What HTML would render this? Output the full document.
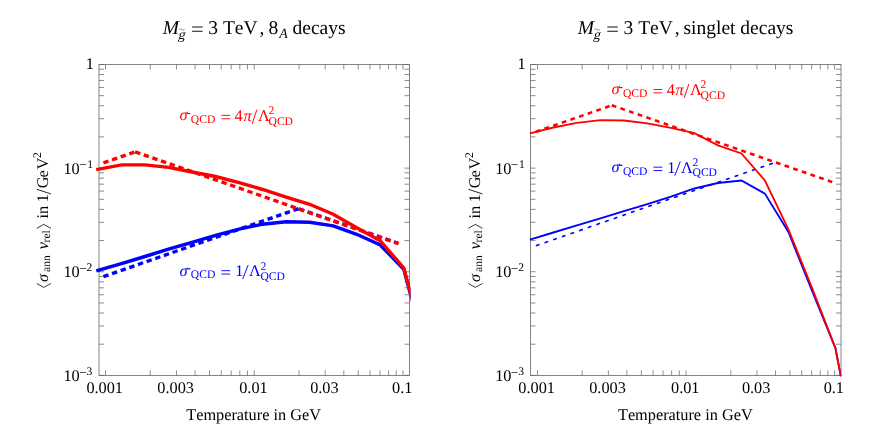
<!DOCTYPE html>
<html><head><meta charset="utf-8"><title>plot</title>
<style>html,body{margin:0;padding:0;background:#fff}svg{display:block;will-change:transform}text{font-family:"Liberation Serif",serif;text-rendering:geometricPrecision;font-kerning:none}</style></head>
<body>
<svg width="880" height="444" viewBox="0 0 880 444" font-family='"Liberation Serif", serif' font-size="16.3" fill="#000">
<rect width="880" height="444" fill="#fff"/>
<defs><clipPath id="c1"><rect x="94" y="60" width="316.5" height="315.9"/></clipPath><clipPath id="c2"><rect x="525" y="60" width="316.6" height="316.2"/></clipPath></defs>
<path d="M105.5 375.4v-5.0M105.5 64.5v5.0M150.28 375.4v-5.0M150.28 64.5v5.0M176.47 375.4v-5.0M176.47 64.5v5.0M195.06 375.4v-5.0M195.06 64.5v5.0M209.47 375.4v-5.0M209.47 64.5v5.0M221.25 375.4v-5.0M221.25 64.5v5.0M231.21 375.4v-5.0M231.21 64.5v5.0M239.83 375.4v-5.0M239.83 64.5v5.0M247.44 375.4v-5.0M247.44 64.5v5.0M254.25 375.4v-5.0M254.25 64.5v5.0M299.03 375.4v-5.0M299.03 64.5v5.0M325.22 375.4v-5.0M325.22 64.5v5.0M343.81 375.4v-5.0M343.81 64.5v5.0M358.22 375.4v-5.0M358.22 64.5v5.0M370 375.4v-5.0M370 64.5v5.0M379.96 375.4v-5.0M379.96 64.5v5.0M388.58 375.4v-5.0M388.58 64.5v5.0M396.19 375.4v-5.0M396.19 64.5v5.0M403 375.4v-5.0M403 64.5v5.0M99 375.39h5.0M409.5 375.39h-5.0M99 344.19h5.0M409.5 344.19h-5.0M99 325.95h5.0M409.5 325.95h-5.0M99 313h5.0M409.5 313h-5.0M99 302.96h5.0M409.5 302.96h-5.0M99 294.75h5.0M409.5 294.75h-5.0M99 287.81h5.0M409.5 287.81h-5.0M99 281.8h5.0M409.5 281.8h-5.0M99 276.5h5.0M409.5 276.5h-5.0M99 271.76h5.0M409.5 271.76h-5.0M99 240.56h5.0M409.5 240.56h-5.0M99 222.32h5.0M409.5 222.32h-5.0M99 209.37h5.0M409.5 209.37h-5.0M99 199.33h5.0M409.5 199.33h-5.0M99 191.12h5.0M409.5 191.12h-5.0M99 184.18h5.0M409.5 184.18h-5.0M99 178.17h5.0M409.5 178.17h-5.0M99 172.87h5.0M409.5 172.87h-5.0M99 168.13h5.0M409.5 168.13h-5.0M99 136.93h5.0M409.5 136.93h-5.0M99 118.69h5.0M409.5 118.69h-5.0M99 105.74h5.0M409.5 105.74h-5.0M99 95.7h5.0M409.5 95.7h-5.0M99 87.49h5.0M409.5 87.49h-5.0M99 80.55h5.0M409.5 80.55h-5.0M99 74.54h5.0M409.5 74.54h-5.0M99 69.24h5.0M409.5 69.24h-5.0M99 64.5h5.0M409.5 64.5h-5.0" stroke="#666" stroke-width="0.75" fill="none"/>
<rect x="99" y="64.5" width="310.5" height="310.9" stroke="#666" stroke-width="0.8" fill="none"/>
<path d="M537.45 375.4v-5.0M537.45 64.5v5.0M582.18 375.4v-5.0M582.18 64.5v5.0M608.35 375.4v-5.0M608.35 64.5v5.0M626.92 375.4v-5.0M626.92 64.5v5.0M641.32 375.4v-5.0M641.32 64.5v5.0M653.08 375.4v-5.0M653.08 64.5v5.0M663.03 375.4v-5.0M663.03 64.5v5.0M671.65 375.4v-5.0M671.65 64.5v5.0M679.25 375.4v-5.0M679.25 64.5v5.0M686.05 375.4v-5.0M686.05 64.5v5.0M730.78 375.4v-5.0M730.78 64.5v5.0M756.95 375.4v-5.0M756.95 64.5v5.0M775.52 375.4v-5.0M775.52 64.5v5.0M789.92 375.4v-5.0M789.92 64.5v5.0M801.68 375.4v-5.0M801.68 64.5v5.0M811.63 375.4v-5.0M811.63 64.5v5.0M820.25 375.4v-5.0M820.25 64.5v5.0M827.85 375.4v-5.0M827.85 64.5v5.0M834.65 375.4v-5.0M834.65 64.5v5.0M530.5 375.39h5.0M841 375.39h-5.0M530.5 344.19h5.0M841 344.19h-5.0M530.5 325.95h5.0M841 325.95h-5.0M530.5 313h5.0M841 313h-5.0M530.5 302.96h5.0M841 302.96h-5.0M530.5 294.75h5.0M841 294.75h-5.0M530.5 287.81h5.0M841 287.81h-5.0M530.5 281.8h5.0M841 281.8h-5.0M530.5 276.5h5.0M841 276.5h-5.0M530.5 271.76h5.0M841 271.76h-5.0M530.5 240.56h5.0M841 240.56h-5.0M530.5 222.32h5.0M841 222.32h-5.0M530.5 209.37h5.0M841 209.37h-5.0M530.5 199.33h5.0M841 199.33h-5.0M530.5 191.12h5.0M841 191.12h-5.0M530.5 184.18h5.0M841 184.18h-5.0M530.5 178.17h5.0M841 178.17h-5.0M530.5 172.87h5.0M841 172.87h-5.0M530.5 168.13h5.0M841 168.13h-5.0M530.5 136.93h5.0M841 136.93h-5.0M530.5 118.69h5.0M841 118.69h-5.0M530.5 105.74h5.0M841 105.74h-5.0M530.5 95.7h5.0M841 95.7h-5.0M530.5 87.49h5.0M841 87.49h-5.0M530.5 80.55h5.0M841 80.55h-5.0M530.5 74.54h5.0M841 74.54h-5.0M530.5 69.24h5.0M841 69.24h-5.0M530.5 64.5h5.0M841 64.5h-5.0" stroke="#666" stroke-width="0.75" fill="none"/>
<rect x="530.5" y="64.5" width="310.5" height="310.9" stroke="#666" stroke-width="0.8" fill="none"/>
<g clip-path="url(#c1)">
<path d="M97.9 270.5L121.43 263.6L144.96 256.5L168.49 249.2L192.02 242.3L215.55 235.4L239.08 229.2L262.61 224.2L286.14 221.8L309.67 222.2L333.2 225.9L356.73 234.3L380.26 245L403.79 269.2L427.32 357" stroke="#0000ff" stroke-width="3.4" fill="none" stroke-linejoin="miter" stroke-linecap="square"/>
<path d="M103.4 276.57L299.3 208.4" stroke="#0000ff" stroke-width="3.4" fill="none" stroke-linejoin="miter" stroke-dasharray="5.4 3.7479999999999993"/><path d="M298.9 208.85L398.2 243.41" stroke="#0000ff" stroke-width="3.4" fill="none" stroke-linejoin="miter" stroke-dasharray="5.4 3.7479999999999993"/>
<path d="M97.9 169.3L121.43 164.9L144.96 164.9L168.49 167.4L192.02 172L215.55 176.5L239.08 182.7L262.61 189.5L286.14 197.1L309.67 204.3L333.2 214.2L356.73 227.7L380.26 240.8L403.79 268L427.32 355" stroke="#ff0000" stroke-width="3.4" fill="none" stroke-linejoin="miter" stroke-linecap="square"/>
<path d="M103.4 162.93L135.1 151.9" stroke="#ff0000" stroke-width="3.4" fill="none" stroke-linejoin="miter" stroke-dasharray="5.4 3.7479999999999993"/><path d="M135.1 151.9L398.6 243.6" stroke="#ff0000" stroke-width="3.4" fill="none" stroke-linejoin="miter" stroke-dasharray="5.4 3.7479999999999993"/>
</g>
<g clip-path="url(#c2)">
<path d="M529.9 239.6L553.4 232.5L576.9 225.4L600.4 218.3L623.9 211.2L647.4 204.1L670.9 196.6L694.4 188.5L717.9 183L741.4 180.5L764.9 193.6L788.4 232L811.9 290.4L835.4 348.1L858.9 470" stroke="#0000ff" stroke-width="1.85" fill="none" stroke-linejoin="miter"/>
<path d="M535.9 245.69L776.4 162" stroke="#0000ff" stroke-width="1.6" fill="none" stroke-linejoin="miter" stroke-dasharray="3.9 5.247999999999999"/>
<path d="M529.9 133.3L553.4 127.5L576.9 122.9L600.4 120.1L623.9 120.5L647.4 123.3L670.9 127.9L694.4 133.1L717.9 145.4L741.4 153.5L764.9 180.5L788.4 229.3L811.9 287.7L835.4 348.1L858.9 470" stroke="#ff0000" stroke-width="1.85" fill="none" stroke-linejoin="miter"/>
<path d="M535.9 131.71L611.8 105.3" stroke="#ff0000" stroke-width="2.6" fill="none" stroke-linejoin="miter" stroke-dasharray="4.75 4.398"/><path d="M611.8 105.3L832.3 182.03" stroke="#ff0000" stroke-width="2.6" fill="none" stroke-linejoin="miter" stroke-dasharray="4.75 4.398"/>
</g>
<text x="104.7" y="392.9" text-anchor="middle">0.001</text>
<text x="175.67" y="392.9" text-anchor="middle">0.003</text>
<text x="253.45" y="392.9" text-anchor="middle">0.01</text>
<text x="324.42" y="392.9" text-anchor="middle">0.03</text>
<text x="402.2" y="392.9" text-anchor="middle">0.1</text>
<text x="536.65" y="392.9" text-anchor="middle">0.001</text>
<text x="607.55" y="392.9" text-anchor="middle">0.003</text>
<text x="685.25" y="392.9" text-anchor="middle">0.01</text>
<text x="756.15" y="392.9" text-anchor="middle">0.03</text>
<text x="833.85" y="392.9" text-anchor="middle">0.1</text>
<text x="85.77" y="69" font-size="16.3">1</text>
<text x="63.47" y="173.63" font-size="16.3">10</text>
<text x="79.14" y="169.33" font-size="13.3">−</text>
<text x="87.18" y="167.73" font-size="11.6">1</text>
<text x="63.47" y="277.26" font-size="16.3">10</text>
<text x="79.14" y="272.96" font-size="13.3">−</text>
<text x="86.59" y="271.36" font-size="11.6">2</text>
<text x="63.47" y="380.89" font-size="16.3">10</text>
<text x="79.14" y="376.59" font-size="13.3">−</text>
<text x="86.54" y="374.99" font-size="11.6">3</text>
<text x="517.47" y="69" font-size="16.3">1</text>
<text x="495.17" y="173.63" font-size="16.3">10</text>
<text x="510.84" y="169.33" font-size="13.3">−</text>
<text x="518.88" y="167.73" font-size="11.6">1</text>
<text x="495.17" y="277.26" font-size="16.3">10</text>
<text x="510.84" y="272.96" font-size="13.3">−</text>
<text x="518.29" y="271.36" font-size="11.6">2</text>
<text x="495.17" y="380.89" font-size="16.3">10</text>
<text x="510.84" y="376.59" font-size="13.3">−</text>
<text x="518.24" y="374.99" font-size="11.6">3</text>
<text x="253.6" y="420.1" text-anchor="middle">Temperature in GeV</text>
<text x="685.3" y="420.1" text-anchor="middle">Temperature in GeV</text>
<text x="162.63" y="34" font-size="19.5" font-style="italic">M</text>
<text transform="translate(177.8 38.8) skewX(-14)" x="0" y="0" font-size="13.9">g</text>
<path d="M179.2 29.9c0.9 -1.3 1.8 -1.3 2.7 -0.4s1.8 0.9 2.7 -0.6" stroke="#555" stroke-width="0.7" fill="none"/>
<path d="M192.1 27h10.5M192.1 31.2h10.5" stroke="#111" stroke-width="1.1" fill="none"/>
<text x="208.37" y="34" font-size="19.5">3</text>
<text x="222.95" y="34" font-size="19.5">TeV</text>
<text x="259.46" y="34" font-size="19.5">,</text>
<text x="268.56" y="34" font-size="19.5">8</text>
<text x="279.16" y="37.6" font-size="13.9" font-style="italic">A</text>
<text x="292.5" y="34" font-size="19.5">decays</text>
<text x="577.83" y="34" font-size="19.5" font-style="italic">M</text>
<text transform="translate(593 38.8) skewX(-14)" x="0" y="0" font-size="13.9">g</text>
<path d="M594.4 29.9c0.9 -1.3 1.8 -1.3 2.7 -0.4s1.8 0.9 2.7 -0.6" stroke="#555" stroke-width="0.7" fill="none"/>
<path d="M607.3 27h10.5M607.3 31.2h10.5" stroke="#111" stroke-width="1.1" fill="none"/>
<text x="623.57" y="34" font-size="19.5">3</text>
<text x="638.15" y="34" font-size="19.5">TeV</text>
<text x="674.66" y="34" font-size="19.5">,</text>
<text x="683.5" y="34" font-size="19.5">singlet decays</text>
<g transform="translate(48 287.8) rotate(-90)">
<path d="M4.3 -11.2L0.4 -4.3L4.3 2.9" stroke="#111" stroke-width="0.85" fill="none"/>
<text x="5.91" y="0" font-size="16.3" font-style="italic">σ</text>
<text x="15.79" y="2" font-size="11.6">ann</text>
<text x="38.48" y="0" font-size="16.3" font-style="italic">v</text>
<text x="45.37" y="2" font-size="11.6">rel</text>
<path d="M59.5 -11.2L63.4 -4.3L59.5 2.9" stroke="#111" stroke-width="0.85" fill="none"/>
<text x="69.36" y="0" font-size="16.3">in</text>
<text x="85.67" y="0" font-size="16.3">1</text>
<path d="M93.9 2.9L98.5 -11.2" stroke="#111" stroke-width="0.9" fill="none"/>
<text x="99.53" y="0" font-size="16.3">G</text>
<text x="110.26" y="0" font-size="16.3">e</text>
<text x="118.32" y="0" font-size="16.3">V</text>
<text x="129.79" y="-6.6" font-size="11.6">2</text>
</g>
<g transform="translate(479.6 287.8) rotate(-90)">
<path d="M4.3 -11.2L0.4 -4.3L4.3 2.9" stroke="#111" stroke-width="0.85" fill="none"/>
<text x="5.91" y="0" font-size="16.3" font-style="italic">σ</text>
<text x="15.79" y="2" font-size="11.6">ann</text>
<text x="38.48" y="0" font-size="16.3" font-style="italic">v</text>
<text x="45.37" y="2" font-size="11.6">rel</text>
<path d="M59.5 -11.2L63.4 -4.3L59.5 2.9" stroke="#111" stroke-width="0.85" fill="none"/>
<text x="69.36" y="0" font-size="16.3">in</text>
<text x="85.67" y="0" font-size="16.3">1</text>
<path d="M93.9 2.9L98.5 -11.2" stroke="#111" stroke-width="0.9" fill="none"/>
<text x="99.53" y="0" font-size="16.3">G</text>
<text x="110.26" y="0" font-size="16.3">e</text>
<text x="118.32" y="0" font-size="16.3">V</text>
<text x="129.79" y="-6.6" font-size="11.6">2</text>
</g>
<g fill="#ff0000" stroke="none">
<text x="179.41" y="120.3" font-size="16.3" font-style="italic">σ</text>
<path d="M186.4 113.5h4.0" stroke="#ff0000" stroke-width="1.15" fill="none"/>
<text x="190.82" y="122.7" font-size="11.6">QCD</text>
<path d="M221.4 115.4h8.78M221.4 118.76h8.78" stroke="#ff0000" stroke-width="0.92" fill="none"/>
<text x="234.58" y="120.7" font-size="16.3">4</text>
<text x="243.41" y="120.7" font-size="16.3" font-style="italic">π</text>
<path d="M252.2 123.8L256.8 109.7" stroke="#ff0000" stroke-width="0.95" fill="none"/>
<text x="257.94" y="120.7" font-size="16.3">Λ</text>
<text x="268.49" y="114.2" font-size="11.6">2</text>
<text x="268.52" y="124.5" font-size="11.6">QCD</text>
</g>
<g fill="#0000ff" stroke="none">
<text x="179.41" y="275.6" font-size="16.3" font-style="italic">σ</text>
<path d="M186.4 268.8h4.0" stroke="#0000ff" stroke-width="1.15" fill="none"/>
<text x="190.82" y="278" font-size="11.6">QCD</text>
<path d="M221.4 270.7h8.78M221.4 274.06h8.78" stroke="#0000ff" stroke-width="0.92" fill="none"/>
<text x="235.27" y="276" font-size="16.3">1</text>
<path d="M242.7 279.1L248.2 265" stroke="#0000ff" stroke-width="0.95" fill="none"/>
<text x="248.94" y="276" font-size="16.3">Λ</text>
<text x="260.39" y="269.5" font-size="11.6">2</text>
<text x="260.42" y="279.8" font-size="11.6">QCD</text>
</g>
<g fill="#ff0000" stroke="none">
<text x="611.51" y="94.4" font-size="16.3" font-style="italic">σ</text>
<path d="M618.5 87.6h4.0" stroke="#ff0000" stroke-width="1.15" fill="none"/>
<text x="622.92" y="96.8" font-size="11.6">QCD</text>
<path d="M653.5 89.5h8.78M653.5 92.86h8.78" stroke="#ff0000" stroke-width="0.92" fill="none"/>
<text x="666.68" y="94.8" font-size="16.3">4</text>
<text x="675.51" y="94.8" font-size="16.3" font-style="italic">π</text>
<path d="M684.3 97.9L688.9 83.8" stroke="#ff0000" stroke-width="0.95" fill="none"/>
<text x="690.04" y="94.8" font-size="16.3">Λ</text>
<text x="700.59" y="88.3" font-size="11.6">2</text>
<text x="700.62" y="98.6" font-size="11.6">QCD</text>
</g>
<g fill="#0000ff" stroke="none">
<text x="611.51" y="172.1" font-size="16.3" font-style="italic">σ</text>
<path d="M618.5 165.3h4.0" stroke="#0000ff" stroke-width="1.15" fill="none"/>
<text x="622.92" y="174.5" font-size="11.6">QCD</text>
<path d="M653.5 167.2h8.78M653.5 170.56h8.78" stroke="#0000ff" stroke-width="0.92" fill="none"/>
<text x="667.37" y="172.5" font-size="16.3">1</text>
<path d="M674.8 175.6L680.3 161.5" stroke="#0000ff" stroke-width="0.95" fill="none"/>
<text x="681.04" y="172.5" font-size="16.3">Λ</text>
<text x="692.49" y="166" font-size="11.6">2</text>
<text x="692.52" y="176.3" font-size="11.6">QCD</text>
</g>
</svg>
</body></html>
